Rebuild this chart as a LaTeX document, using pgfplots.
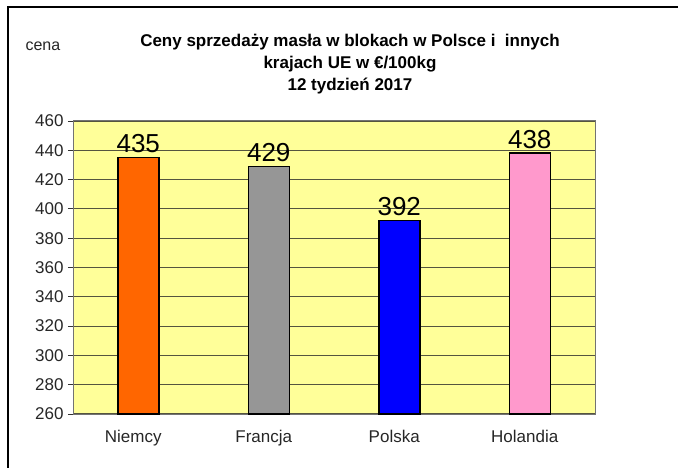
\documentclass[border=0pt]{standalone}
\usepackage{pgfplots}
\pgfplotsset{compat=1.18}
\usepackage{fontspec}
\setmainfont{Liberation Sans}
\definecolor{plotbg}{HTML}{FFFF99}
\definecolor{gridc}{HTML}{55553F}
\definecolor{c1}{HTML}{FF6600}
\definecolor{c2}{HTML}{969696}
\definecolor{c3}{HTML}{0000FF}
\definecolor{c4}{HTML}{FF99CC}
\begin{document}
\begin{tikzpicture}
\path[use as bounding box] (0,0) rectangle (678bp,468bp);
\draw[line width=1.5bp,black] (8bp,0) -- (8bp,461bp) -- (678bp,461bp);
\node[anchor=base west,font=\fontsize{16bp}{19bp}\selectfont,text=black!85] at (22bp,417bp) {cena};
\node[align=center,anchor=north,font=\fontsize{17bp}{22bp}\selectfont\bfseries] at (350bp,437bp)
  {Ceny sprzedaży masła w blokach w Polsce i\ \ innych\\krajach UE w €/100kg\\12 tydzień 2017};
\begin{axis}[
  at={(73bp,54bp)}, anchor=south west,
  scale only axis, width=522bp, height=293bp,
  xmin=-0.5, xmax=3.5, ymin=260, ymax=460,
  ytick={260,280,...,460},
  xtick={0,1,2,3},
  xticklabels={Niemcy,Francja,Polska,Holandia},
  major x tick style={draw=none},
  extra x ticks={-0.5,0.5,1.5,2.5,3.5},
  extra x tick labels={},
  extra x tick style={major tick length=5bp, tick align=outside, grid=none, tick style={draw=black!80, line width=0.8bp}},
  ytick align=outside, major tick length=5bp,
  ytick pos=left,
  y tick style={draw=black!80, line width=0.8bp},
  ymajorgrids, grid style={gridc, line width=1.1bp},
  axis background/.style={fill=plotbg},
  axis line style={draw=black!55, line width=1bp},
  tick label style={font=\fontsize{17bp}{20bp}\selectfont, text=black!85},
  /pgf/number format/assume math mode=true,
  xticklabel style={yshift=-8bp, xshift=-5bp},
  yticklabel style={xshift=-1bp},
  ybar, bar width=41bp, bar shift=0pt,
  nodes near coords,
  every node near coord/.append style={font=\fontsize{26bp}{30bp}\selectfont, text=black, inner sep=0pt, yshift=4bp},
  clip=false,
]
\addplot[fill=c1, draw=black, line width=1.5bp] coordinates {(0,435)};
\addplot[fill=c2, draw=black, line width=1.5bp] coordinates {(1,429)};
\addplot[fill=c3, draw=black, line width=1.5bp] coordinates {(2,392)};
\addplot[fill=c4, draw=black, line width=1.5bp] coordinates {(3,438)};
\end{axis}
\end{tikzpicture}
\end{document}
